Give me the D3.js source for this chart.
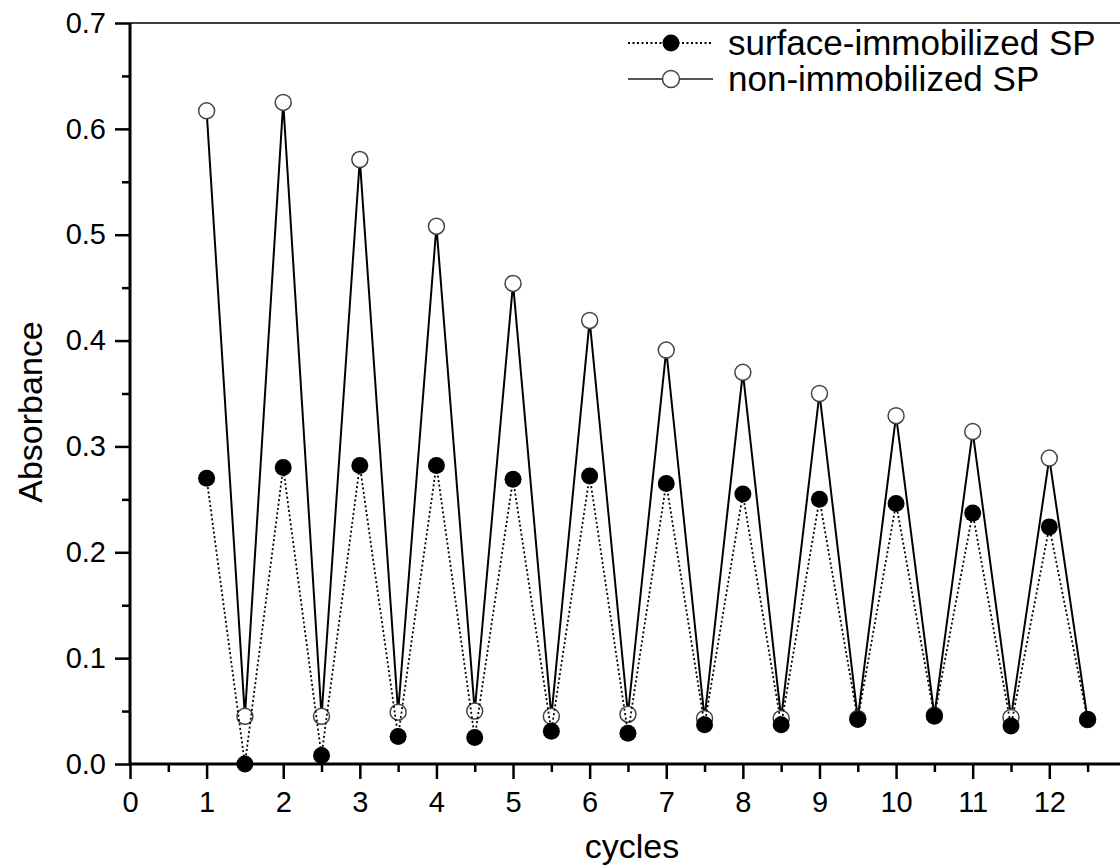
<!DOCTYPE html>
<html>
<head>
<meta charset="utf-8">
<script src="https://cdn.jsdelivr.net/npm/d3@7/dist/d3.min.js"></script>
<style>
	body{ margin:0; background:#fff; }
	text{ font-family:"Liberation Sans", Arial, sans-serif; fill:#000; }
</style>
</head>
<body>
<svg id="chart" width="1120" height="867"></svg>
<script>
//cycles: peaks at whole numbers, lows at the half steps
var cycles = [1,1.5,2,2.5,3,3.5,4,4.5,5,5.5,6,6.5,7,7.5,8,8.5,9,9.5,10,10.5,11,11.5,12,12.5];
var surface = [0.270,0.000,0.280,0.008,0.282,0.026,0.282,0.025,0.269,0.031,0.272,0.029,
	0.265,0.037,0.255,0.037,0.250,0.042,0.246,0.045,0.237,0.036,0.224,0.042];
var nonImm = [0.617,0.045,0.625,0.045,0.571,0.049,0.508,0.050,0.454,0.045,0.419,0.047,
	0.391,0.043,0.370,0.043,0.350,0.043,0.329,0.046,0.314,0.044,0.289,0.042];
var xTicks = [0,1,2,3,4,5,6,7,8,9,10,11,12];
var yTicks = [0,0.1,0.2,0.3,0.4,0.5,0.6,0.7];
var legendNames = ["surface-immobilized SP", "non-immobilized SP"];

var svg = d3.select("#chart");
var pLeft = 130, pRight = 1120, pTop = 23, pBottom = 764;

var x = d3.scaleLinear().domain([0, 12.923]).range([pLeft, pRight]);
var y = d3.scaleLinear().domain([0, 0.7]).range([pBottom, pTop]);

//minor ticks every half step
var xMinor = d3.range(0.5, 12.9, 1);
var yMinor = d3.range(0.05, 0.7, 0.1);

//axes, minor and major in their own groups
svg.append("g").attr("class", "ax").attr("transform", "translate(0," + pBottom + ")")
	.call(d3.axisBottom(x).tickValues(xMinor).tickSize(8).tickFormat(""));
svg.append("g").attr("class", "ax").attr("transform", "translate(0," + pBottom + ")")
	.call(d3.axisBottom(x).tickValues(xTicks).tickSize(15).tickPadding(12).tickFormat(d3.format("d")));
svg.append("g").attr("class", "ax").attr("transform", "translate(" + pLeft + ",0)")
	.call(d3.axisLeft(y).tickValues(yMinor).tickSize(8).tickFormat(""));
svg.append("g").attr("class", "ax").attr("transform", "translate(" + pLeft + ",0)")
	.call(d3.axisLeft(y).tickValues(yTicks).tickSize(15).tickPadding(9).tickFormat(d3.format(".1f")));

svg.selectAll(".ax .domain").remove();
svg.selectAll(".tick line").attr("stroke", "#000").attr("stroke-width", 2.5);
svg.selectAll(".tick text").attr("font-size", "29px").attr("fill", "#000")
	.attr("font-family", "Liberation Sans, Arial, sans-serif");

svg.append("line").attr("x1", pLeft).attr("x2", pRight).attr("y1", pBottom).attr("y2", pBottom)
	.attr("stroke", "#000").attr("stroke-width", 3);
svg.append("line").attr("x1", pLeft).attr("x2", pLeft).attr("y1", pTop).attr("y2", pBottom + 1.5)
	.attr("stroke", "#000").attr("stroke-width", 3);
svg.append("line").attr("x1", pLeft).attr("x2", pRight).attr("y1", pTop).attr("y2", pTop)
	.attr("stroke", "#000").attr("stroke-width", 1.5);

//axis titles
svg.append("text").text("cycles")
	.attr("x", 632).attr("y", 858)
	.attr("text-anchor", "middle").attr("font-size", "34px");
svg.append("text").text("Absorbance")
	.attr("transform", "translate(42,412) rotate(-90)")
	.attr("text-anchor", "middle").attr("font-size", "34px");

var line = d3.line()
	.x(function(d, i){ return x(cycles[i]) })
	.y(function(d){ return y(d) });

//non-immobilized: solid line, hollow circles
svg.append("path").datum(nonImm)
	.attr("d", line).attr("fill", "none")
	.attr("stroke", "#000").attr("stroke-width", 2);
svg.selectAll("circle.open").data(nonImm)
  .enter().append("circle").attr("class", "open")
	.attr("cx", function(d, i){ return x(cycles[i]) })
	.attr("cy", function(d){ return y(d) })
	.attr("r", 8)
	.attr("fill", "#fff").attr("stroke", "#444").attr("stroke-width", 1.5);

//surface-immobilized: dotted line, filled circles
svg.append("path").datum(surface)
	.attr("d", line).attr("fill", "none")
	.attr("stroke", "#000").attr("stroke-width", 1.8)
	.attr("stroke-dasharray", "2,2.5");
svg.selectAll("circle.fill").data(surface)
  .enter().append("circle").attr("class", "fill")
	.attr("cx", function(d, i){ return x(cycles[i]) })
	.attr("cy", function(d){ return y(d) })
	.attr("r", 8.5)
	.attr("fill", "#000");

//legend
var leg = svg.append("g");
var rowY = [43, 79];
leg.append("line").attr("x1", 628).attr("x2", 713).attr("y1", rowY[0]).attr("y2", rowY[0])
	.attr("stroke", "#000").attr("stroke-width", 1.8).attr("stroke-dasharray", "2,2.5");
leg.append("circle").attr("cx", 671).attr("cy", rowY[0]).attr("r", 8.5).attr("fill", "#000");
leg.append("line").attr("x1", 628).attr("x2", 713).attr("y1", rowY[1]).attr("y2", rowY[1])
	.attr("stroke", "#555").attr("stroke-width", 2);
leg.append("circle").attr("cx", 671).attr("cy", rowY[1]).attr("r", 8.5)
	.attr("fill", "#fff").attr("stroke", "#444").attr("stroke-width", 1.5);
leg.selectAll("text").data(legendNames)
  .enter().append("text")
	.text(function(d){ return d })
	.attr("x", 728)
	.attr("y", function(d, i){ return rowY[i] + 12 })
	.attr("font-size", "35px");
</script>
</body>
</html>
